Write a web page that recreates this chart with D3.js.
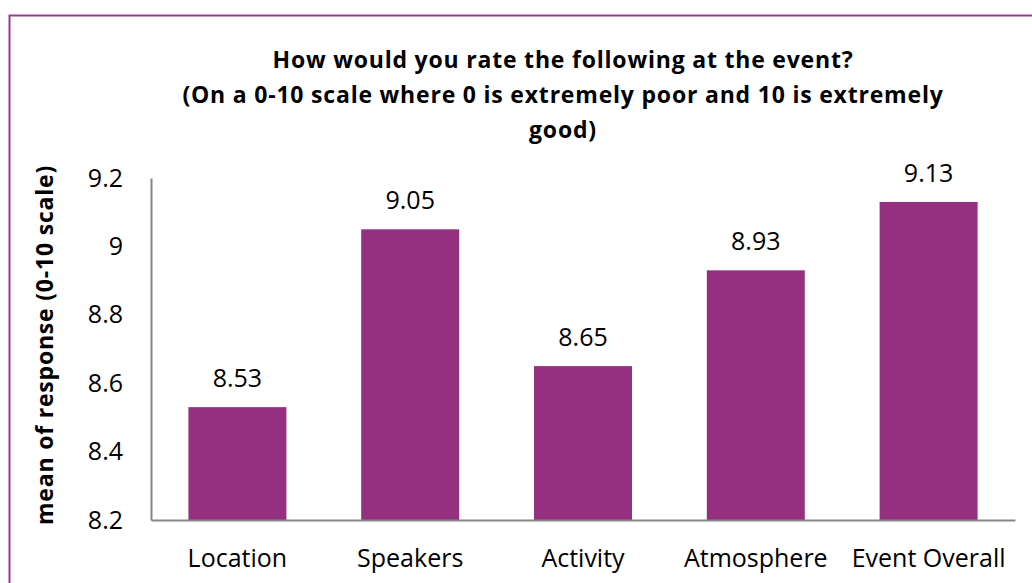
<!DOCTYPE html>
<html>
<head>
<meta charset="utf-8">
<script src="https://cdn.jsdelivr.net/npm/d3@7"></script>
<style>
  body { margin: 0; background: #fff; }
  text { font-family: "Open Sans", Lato, sans-serif; }
</style>
</head>
<body>
<div id="chart"></div>
<script>
// data
var categories = ["Location", "Speakers", "Activity", "Atmosphere", "Event Overall"];
var means = [8.53, 9.05, 8.65, 8.93, 9.13];
var yTicks = [8.2, 8.4, 8.6, 8.8, 9, 9.2];
var titleLines = ["How would you rate the following at the event?",
                  "(On a 0-10 scale where 0 is extremely poor and 10 is extremely",
                  "good)"];

var W = 1032, H = 583;
var margin = {top: 178, right: 17, bottom: 63, left: 151},
    width = W - margin.left - margin.right,
    height = H - margin.top - margin.bottom;

var svg = d3.select("#chart").append("svg")
    .attr("width", W)
    .attr("height", H);

// purple frame
svg.append("rect")
    .attr("x", 9.5).attr("y", 15.5)
    .attr("width", W + 20).attr("height", H + 20)
    .attr("fill", "none")
    .attr("stroke", "#993d8a")
    .attr("stroke-width", 2);

// title
svg.append("g").selectAll("text")
    .data(titleLines)
    .enter().append("text")
    .attr("x", 563)
    .attr("y", function(d, i) { return 68 + i * 35; })
    .attr("text-anchor", "middle")
    .attr("font-size", "23px")
    .attr("font-weight", "bold")
    .attr("letter-spacing", "0.8px")
    .attr("fill", "#000")
    .text(function(d) { return d; });

var g = svg.append("g")
    .attr("transform", "translate(" + margin.left + "," + margin.top + ")");

var x = d3.scaleBand()
    .domain(categories)
    .range([0, width])
    .paddingInner(0.433)
    .paddingOuter(0.2165);

var y = d3.scaleLinear()
    .domain([8.2, 9.2])
    .range([height, 0]);

// bars
g.selectAll(".bar")
    .data(means)
    .enter().append("rect")
    .attr("class", "bar")
    .attr("x", function(d, i) { return x(categories[i]); })
    .attr("y", function(d) { return y(d); })
    .attr("width", x.bandwidth())
    .attr("height", function(d) { return height - y(d); })
    .attr("fill", "#953080");

// value labels
g.selectAll(".val")
    .data(means)
    .enter().append("text")
    .attr("class", "val")
    .attr("x", function(d, i) { return x(categories[i]) + x.bandwidth() / 2; })
    .attr("y", function(d) { return y(d) - 20; })
    .attr("text-anchor", "middle")
    .attr("font-size", "25px")
    .attr("fill", "#000")
    .text(function(d) { return d.toFixed(2); });

// y axis
var yAxis = g.append("g")
    .call(d3.axisLeft(y).tickValues(yTicks).tickSize(0).tickPadding(28)
      .tickFormat(function(d) { return d3.format("~g")(d); }));
yAxis.select(".domain").attr("stroke", "#868686").attr("stroke-width", 2);
yAxis.selectAll("text").attr("font-size", "25px").attr("fill", "#000")
    .attr("font-family", "'Open Sans', Lato, sans-serif");

// x axis
var xAxis = g.append("g")
    .attr("transform", "translate(0," + height + ")")
    .call(d3.axisBottom(x).tickSize(0).tickPadding(29));
xAxis.select(".domain").attr("stroke", "#868686").attr("stroke-width", 2);
xAxis.selectAll("text").attr("font-size", "25px").attr("fill", "#000")
    .attr("font-family", "'Open Sans', Lato, sans-serif");

// y label
svg.append("text")
    .attr("transform", "translate(53,345) rotate(-90)")
    .attr("text-anchor", "middle")
    .attr("font-size", "23px")
    .attr("font-weight", "bold")
    .attr("letter-spacing", "0.8px")
    .attr("fill", "#000")
    .text("mean of response (0-10 scale)");
</script>
</body>
</html>
